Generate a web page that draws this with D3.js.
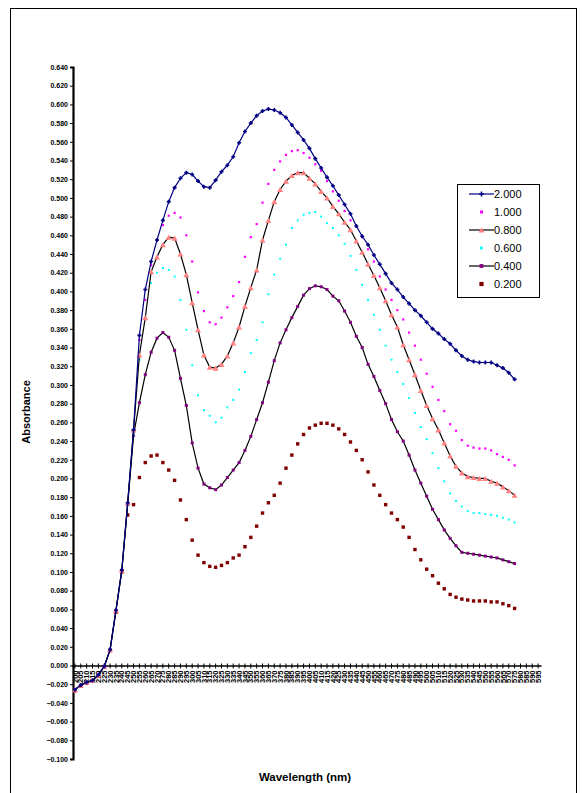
<!DOCTYPE html>
<html>
<head>
<meta charset="utf-8">
<script src="https://cdn.jsdelivr.net/npm/d3@7"></script>
<style>
  html, body { margin: 0; padding: 0; background: #fff; }
  svg { display: block; font-family: "Liberation Sans", Arial, sans-serif; }
</style>
</head>
<body>
<svg id="chart" width="582" height="793"></svg>
<script>
// ---- data ----
const wavelengths = d3.range(200, 600, 5).map(String); // category labels (80)
const seriesNames = ["2.000", "1.000", "0.800", "0.600", "0.400", "0.200"];
const yTicks = d3.range(-5, 33).map(k => k * 0.02);

const s2000 = [-0.026,-0.021,-0.018,-0.016,-0.010,-0.001,0.017,0.059,0.102,0.174,0.252,
  0.353,0.402,0.432,0.455,0.476,0.496,0.511,0.521,0.527,0.525,0.518,0.512,0.511,0.519,0.528,
  0.535,0.544,0.559,0.571,0.580,0.588,0.593,0.595,0.594,0.591,0.586,0.578,0.570,0.562,0.553,
  0.542,0.532,0.522,0.513,0.503,0.493,0.483,0.470,0.459,0.450,0.439,0.429,0.419,0.409,0.402,
  0.394,0.387,0.380,0.374,0.367,0.360,0.355,0.349,0.344,0.337,0.331,0.327,0.325,0.324,0.324,
  0.324,0.321,0.318,0.313,0.306];
const s1000 = [-0.026,-0.021,-0.018,-0.016,-0.010,-0.001,0.017,0.059,0.102,0.174,0.252,
  0.348,0.391,0.428,0.455,0.471,0.481,0.484,0.479,0.460,0.432,0.399,0.379,0.367,0.365,0.372,
  0.383,0.395,0.410,0.437,0.458,0.472,0.495,0.515,0.530,0.539,0.546,0.550,0.551,0.548,0.543,
  0.536,0.529,0.518,0.507,0.497,0.486,0.476,0.469,0.458,0.445,0.432,0.416,0.402,0.391,0.380,
  0.370,0.356,0.342,0.327,0.312,0.298,0.284,0.272,0.258,0.251,0.241,0.235,0.233,0.232,0.232,
  0.230,0.226,0.223,0.220,0.214];
const s0800 = [-0.026,-0.021,-0.018,-0.016,-0.010,-0.001,0.017,0.059,0.102,0.174,0.252,
  0.332,0.372,0.421,0.437,0.450,0.458,0.457,0.440,0.418,0.388,0.359,0.332,0.319,0.318,0.322,
  0.331,0.345,0.362,0.384,0.404,0.423,0.455,0.476,0.496,0.509,0.518,0.524,0.527,0.527,0.521,
  0.515,0.507,0.500,0.491,0.483,0.474,0.466,0.454,0.442,0.429,0.417,0.404,0.390,0.375,0.362,
  0.343,0.327,0.311,0.294,0.278,0.264,0.252,0.238,0.224,0.213,0.206,0.202,0.201,0.200,0.200,
  0.197,0.195,0.191,0.187,0.182];
const s0600 = [-0.026,-0.021,-0.018,-0.016,-0.010,-0.001,0.017,0.059,0.102,0.172,0.247,
  0.327,0.372,0.409,0.420,0.425,0.423,0.416,0.391,0.359,0.321,0.289,0.273,0.267,0.260,0.265,
  0.276,0.284,0.295,0.314,0.334,0.348,0.367,0.397,0.418,0.435,0.450,0.468,0.476,0.482,0.484,
  0.485,0.480,0.473,0.468,0.460,0.451,0.438,0.423,0.407,0.391,0.375,0.359,0.342,0.327,0.314,
  0.301,0.286,0.270,0.255,0.242,0.227,0.211,0.197,0.184,0.176,0.170,0.165,0.163,0.163,0.162,
  0.161,0.160,0.158,0.156,0.153];
const s0400 = [-0.026,-0.021,-0.018,-0.016,-0.010,-0.001,0.017,0.059,0.102,0.172,0.246,
  0.281,0.311,0.335,0.350,0.356,0.351,0.337,0.307,0.278,0.238,0.211,0.194,0.190,0.188,0.193,
  0.201,0.209,0.217,0.230,0.245,0.263,0.281,0.303,0.326,0.345,0.359,0.372,0.384,0.396,0.403,
  0.406,0.405,0.402,0.395,0.390,0.379,0.367,0.352,0.340,0.322,0.309,0.294,0.280,0.263,0.250,
  0.240,0.225,0.209,0.195,0.181,0.167,0.156,0.145,0.136,0.128,0.121,0.120,0.119,0.118,0.117,
  0.116,0.115,0.113,0.111,0.109];
const s0200 = [-0.027,-0.022,-0.019,-0.016,-0.011,-0.002,0.016,0.057,0.100,0.161,0.172,
  0.201,0.217,0.224,0.225,0.217,0.209,0.198,0.177,0.156,0.134,0.118,0.110,0.106,0.105,0.107,
  0.110,0.115,0.118,0.127,0.137,0.149,0.163,0.174,0.182,0.195,0.211,0.225,0.237,0.247,0.254,
  0.257,0.259,0.259,0.257,0.253,0.247,0.239,0.230,0.220,0.207,0.193,0.182,0.172,0.163,0.156,
  0.148,0.137,0.124,0.113,0.103,0.096,0.088,0.082,0.076,0.073,0.071,0.070,0.069,0.069,0.069,
  0.068,0.068,0.066,0.064,0.061];
const seriesValues = [s2000, s1000, s0800, s0600, s0400, s0200];

// ---- styles (per series) ----
const styles = [
  { line: "#000080", marker: "plus",     mcolor: "#000080", size: 4 },
  { line: null,      marker: "square",   mcolor: "#FF00FF", size: 2.2 },
  { line: "#000000", marker: "triangle", mcolor: "#FF8080", size: 6 },
  { line: null,      marker: "square",   mcolor: "#00FFFF", size: 2 },
  { line: "#000000", marker: "square",   mcolor: "#800080", size: 3 },
  { line: null,      marker: "square",   mcolor: "#800000", size: 3.4 }
];

const svg = d3.select("#chart");

// outer border
svg.append("rect").attr("x", 10.5).attr("y", 8.5).attr("width", 566).attr("height", 800)
  .attr("fill", "none").attr("stroke", "#000").attr("stroke-width", 1);

const x = d3.scaleBand().domain(wavelengths).range([72, 541]);
const y = d3.scaleLinear().domain([-0.1, 0.64]).range([759, 67]);
const cx = i => x(wavelengths[i]) + x.bandwidth() / 2;

// y axis
const yAxis = svg.append("g").attr("transform", "translate(73,0)")
  .call(d3.axisLeft(y).tickValues(yTicks).tickFormat(d3.format(".3f")).tickSize(3).tickPadding(2));
yAxis.select(".domain").attr("stroke-width", 2.2);
yAxis.selectAll(".tick line").attr("stroke-width", 1);
yAxis.selectAll("text").attr("font-size", 7).attr("font-weight", "bold").attr("fill", "#000");

// x axis at zero
const xAxis = svg.append("g").attr("transform", `translate(0,${y(0)})`)
  .call(d3.axisBottom(x).tickSize(3).tickSizeOuter(0));
xAxis.select(".domain").attr("stroke-width", 1.3);
xAxis.selectAll(".tick line").attr("y1", -2).attr("y2", 3);
xAxis.selectAll("text")
  .attr("font-size", 7.5).attr("font-weight", "bold").attr("fill", "#000")
  .attr("transform", "rotate(-90)")
  .attr("text-anchor", "end")
  .attr("x", -5).attr("y", 0).attr("dy", "0.35em");

// series
const plot = svg.append("g");
function drawMarker(g, type, color, size, px, py) {
  if (type === "square") {
    g.append("rect").attr("x", px - size / 2).attr("y", py - size / 2)
      .attr("width", size).attr("height", size).attr("fill", color);
  } else if (type === "plus") {
    g.append("path").attr("d", `M${px - size / 2},${py}H${px + size / 2}M${px},${py - size / 2}V${py + size / 2}`)
      .attr("stroke", color).attr("stroke-width", 1.6);
  } else if (type === "triangle") {
    const h = size * 0.85;
    g.append("path").attr("d", `M${px},${py - h / 2}L${px + size / 2},${py + h / 2}L${px - size / 2},${py + h / 2}Z`)
      .attr("fill", color);
  }
}
// draw from last (0.200) to first so upper series appear on top like the original
for (let k = seriesValues.length - 1; k >= 0; k--) {
  const vals = seriesValues[k];
  const st = styles[k];
  const g = plot.append("g");
  if (st.line) {
    g.append("path")
      .datum(vals)
      .attr("fill", "none")
      .attr("stroke", st.line)
      .attr("stroke-width", 1.2)
      .attr("d", d3.line().x((d, i) => cx(i)).y(d => y(d)));
  }
  vals.forEach((v, i) => drawMarker(g, st.marker, st.mcolor, st.size, cx(i), y(v)));
}

// axis titles
svg.append("text").attr("x", 305).attr("y", 781).attr("text-anchor", "middle")
  .attr("font-size", 11.5).attr("font-weight", "bold").text("Wavelength (nm)");
svg.append("text").attr("transform", "translate(30,412) rotate(-90)").attr("text-anchor", "middle")
  .attr("font-size", 11).attr("font-weight", "bold").text("Absorbance");

// legend
const lg = svg.append("g");
lg.append("rect").attr("x", 457.5).attr("y", 184.5).attr("width", 82).attr("height", 113)
  .attr("fill", "#fff").attr("stroke", "#000").attr("stroke-width", 1);
const legendY = [194, 212, 230, 248, 266, 284];
seriesNames.forEach((name, k) => {
  const st = styles[k];
  const ly = legendY[k];
  if (st.line) {
    lg.append("line").attr("x1", 469).attr("x2", 494).attr("y1", ly).attr("y2", ly)
      .attr("stroke", st.line).attr("stroke-width", 1.2);
  }
  drawMarker(lg, st.marker, st.mcolor, k === 2 ? 6 : st.size + 0.8, 481.5, ly);
  lg.append("text").attr("x", 494).attr("y", ly).attr("dy", "0.35em")
    .attr("font-size", 11).attr("fill", "#000").text(name);
});
</script>
</body>
</html>
